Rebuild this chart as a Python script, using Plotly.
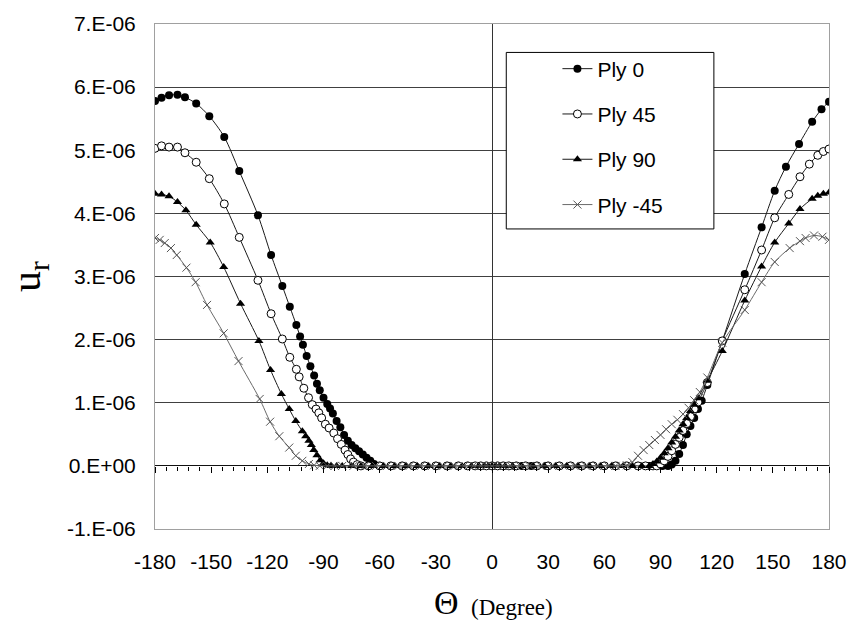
import plotly.graph_objects as go

# ---------------- data (u_r values) ----------------
theta_ply0 = [-180, -176.5, -172.5, -168, -164, -158, -151, -143, -135, -125, -118, -112, -108,
              -104.5, -102.5, -101, -99, -97, -95, -93.5, -92, -90, -88, -86.5, -85, -83, -81,
              -79, -77, -75, -73, -71, -69, -67, -65, -63, -60, -54, -48, -42, -36, -30, -24,
              -18, -13, -9, -6, -4, -2, 0, 2, 4, 6, 9, 12, 16, 21, 29, 36, 42, 48, 54, 60, 66,
              72, 78, 84, 88, 91, 94, 96, 98, 100, 102, 104, 106, 108, 110, 112, 115, 123,
              135, 144, 151, 157, 164, 171, 176, 180]
u_ply0 = [5.78e-6, 5.83e-6, 5.87e-6, 5.88e-6, 5.84e-6, 5.74e-6, 5.54e-6, 5.21e-6, 4.67e-6,
          3.97e-6, 3.34e-6, 2.85e-6, 2.52e-6, 2.23e-6, 2.05e-6, 1.92e-6, 1.74e-6, 1.58e-6,
          1.43e-6, 1.30e-6, 1.20e-6, 1.08e-6, 0.98e-6, 0.91e-6, 0.83e-6, 0.71e-6, 0.61e-6,
          0.49e-6, 0.40e-6, 0.33e-6, 0.28e-6, 0.23e-6, 0.18e-6, 0.13e-6, 0.08e-6, 0.03e-6,
          0, 0, 0, 0, 0, 0, 0, 0, 0, 0, 0, 0, 0, 0, 0, 0, 0, 0, 0, 0, 0, 0, 0, 0, 0, 0, 0, 0,
          0, 0, 0, 0, 0, 0, 0.02e-6, 0.08e-6, 0.19e-6, 0.33e-6, 0.50e-6, 0.63e-6, 0.76e-6,
          0.90e-6, 1.03e-6, 1.28e-6, 1.98e-6, 3.04e-6, 3.78e-6, 4.36e-6, 4.74e-6, 5.10e-6,
          5.45e-6, 5.65e-6, 5.77e-6]

theta_ply45 = [-180, -176.5, -172.5, -168, -164, -158, -151, -143, -135, -125, -118, -112, -108,
               -104.5, -103, -100.5, -98, -96, -94, -92.5, -91, -89, -87, -84.5, -82.5, -80.5,
               -78.5, -77, -75.5, -74, -72, -70, -66, -60, -54, -48, -42, -36, -30, -24, -18,
               -13, -9, -6, -3, 0, 3, 6, 9, 13, 18, 24, 30, 36, 42, 48, 54, 60, 66, 72, 78, 82,
               86, 88, 90, 92, 94, 96, 98, 100, 102, 104, 106, 108, 110, 115, 123, 135, 144,
               151, 158.5, 164.5, 169.5, 174, 177, 180]
u_ply45 = [5.03e-6, 5.07e-6, 5.05e-6, 5.05e-6, 4.96e-6, 4.81e-6, 4.55e-6, 4.15e-6, 3.62e-6,
           2.94e-6, 2.41e-6, 2.01e-6, 1.72e-6, 1.53e-6, 1.41e-6, 1.23e-6, 1.08e-6, 0.97e-6,
           0.90e-6, 0.84e-6, 0.76e-6, 0.66e-6, 0.60e-6, 0.52e-6, 0.43e-6, 0.34e-6, 0.25e-6,
           0.18e-6, 0.11e-6, 0.06e-6, 0.02e-6, 0, 0, 0, 0, 0, 0, 0, 0, 0, 0, 0, 0, 0, 0, 0, 0,
           0, 0, 0, 0, 0, 0, 0, 0, 0, 0, 0, 0, 0, 0, 0, 0, 0, 0.03e-6, 0.08e-6, 0.15e-6,
           0.24e-6, 0.34e-6, 0.45e-6, 0.56e-6, 0.67e-6, 0.78e-6, 0.90e-6, 1.01e-6, 1.32e-6,
           1.98e-6, 2.79e-6, 3.42e-6, 3.93e-6, 4.30e-6, 4.58e-6, 4.78e-6, 4.92e-6, 4.98e-6,
           5.02e-6]

theta_ply90 = [-180, -176.5, -172.5, -168, -163.5, -158, -150.5, -143.3, -134.3, -124.5, -118.3,
               -112.5, -108.3, -104.8, -101.3, -99.5, -97.8, -96.5, -95.2, -93.5, -91.7, -90,
               -88, -86, -83, -80, -75, -70, -64, -58, -52, -46, -40, -34, -28, -22, -16, -11,
               -7, -4, -2, 0, 2, 4, 7, 11, 16, 22, 28, 34, 40, 46, 52, 58, 64, 70, 75, 80, 84,
               86, 88, 90, 92, 94, 96, 98, 100, 102, 104, 106, 108, 110, 115, 123, 135, 144, 151,
               158.5, 164.5, 171, 174, 177, 180]
u_ply90 = [4.31e-6, 4.30e-6, 4.27e-6, 4.18e-6, 4.05e-6, 3.82e-6, 3.54e-6, 3.15e-6, 2.57e-6,
           1.98e-6, 1.52e-6, 1.14e-6, 0.90e-6, 0.71e-6, 0.55e-6, 0.47e-6, 0.40e-6, 0.33e-6,
           0.25e-6, 0.17e-6, 0.09e-6, 0.04e-6, 0.01e-6, 0, 0, 0, 0, 0, 0, 0, 0, 0, 0, 0, 0, 0,
           0, 0, 0, 0, 0, 0, 0, 0, 0, 0, 0, 0, 0, 0, 0, 0, 0, 0, 0, 0, 0, 0, 0, 0.03e-6,
           0.07e-6, 0.13e-6, 0.20e-6, 0.28e-6, 0.37e-6, 0.46e-6, 0.56e-6, 0.66e-6, 0.76e-6,
           0.87e-6, 0.97e-6, 1.07e-6, 1.35e-6, 1.82e-6, 2.62e-6, 3.16e-6, 3.54e-6, 3.84e-6,
           4.07e-6, 4.23e-6, 4.28e-6, 4.31e-6, 4.33e-6]

theta_plym45 = [-180, -177.5, -174.8, -171.5, -168.4, -163.2, -158.3, -152.2, -143.3, -135.4,
                -124.1, -118.5, -113.6, -108.3, -104.8, -101.3, -97.8, -95, -92, -88, -84, -80,
                -74, -68, -62, -56, -50, -44, -38, -32, -26, -20, -15, -10, -6, -3, 0, 3, 6, 10,
                15, 20, 26, 32, 38, 44, 50, 56, 62, 66, 69, 72, 75, 78, 81, 84, 87, 90, 93, 96,
                99, 102, 105, 108, 111, 115, 123, 135, 144, 151, 159, 164.5, 167.5, 172, 176.5,
                180]
u_plym45 = [3.61e-6, 3.58e-6, 3.53e-6, 3.45e-6, 3.34e-6, 3.14e-6, 2.91e-6, 2.55e-6, 2.10e-6,
            1.66e-6, 1.06e-6, 0.70e-6, 0.47e-6, 0.29e-6, 0.16e-6, 0.08e-6, 0.03e-6, 0.01e-6,
            0, 0, 0, 0, 0, 0, 0, 0, 0, 0, 0, 0, 0, 0, 0, 0, 0, 0, 0, 0, 0, 0, 0, 0, 0, 0, 0,
            0, 0, 0, 0, 0, 0.005e-6, 0.01e-6, 0.06e-6, 0.16e-6, 0.25e-6, 0.33e-6, 0.41e-6,
            0.49e-6, 0.58e-6, 0.66e-6, 0.73e-6, 0.82e-6, 0.92e-6, 1.04e-6, 1.17e-6, 1.40e-6,
            1.95e-6, 2.47e-6, 2.91e-6, 3.23e-6, 3.45e-6, 3.56e-6, 3.61e-6, 3.65e-6, 3.63e-6,
            3.58e-6]

series_names = ["Ply 0", "Ply 45", "Ply 90", "Ply -45"]

x_tick_vals = [-180, -150, -120, -90, -60, -30, 0, 30, 60, 90, 120, 150, 180]
x_tick_text = ["-180", "-150", "-120", "-90", "-60", "-30", "0", "30", "60", "90", "120", "150", "180"]
y_tick_vals = [-1e-6, 0, 1e-6, 2e-6, 3e-6, 4e-6, 5e-6, 6e-6, 7e-6]
y_tick_text = ["-1.E-06", "0.E+00", "1.E-06", "2.E-06", "3.E-06", "4.E-06", "5.E-06", "6.E-06", "7.E-06"]

# ---------------- figure ----------------
W, H = 859, 627
ML, MR, MT, MB = 155, 19, 14, 98
PW, PH = W - ML - MR, H - MT - MB

def px_x(p):
    return (p - ML) / PW

def px_y(p):
    return (H - MB - p) / PH

FONT = "Liberation Sans, Arial, sans-serif"
SERIF = "Liberation Serif, Times New Roman, serif"
FS = 21

fig = go.Figure()

styles = [
    dict(marker=dict(symbol="circle", size=8, color="black", line=dict(width=0)),
         line=dict(color="#1a1a1a", width=1)),
    dict(marker=dict(symbol="circle", size=8, color="white", line=dict(color="black", width=1)),
         line=dict(color="#1a1a1a", width=1)),
    dict(marker=dict(symbol="triangle-up", size=8, color="black", line=dict(width=0)),
         line=dict(color="#1a1a1a", width=1)),
    dict(marker=dict(symbol="x-thin", size=8, color="#555555", line=dict(color="#555555", width=1)),
         line=dict(color="#6a6a6a", width=1)),
]
data = [(theta_ply0, u_ply0), (theta_ply45, u_ply45), (theta_ply90, u_ply90), (theta_plym45, u_plym45)]

for i, ((xs, ys), name) in enumerate(zip(data, series_names)):
    st = styles[i]
    fig.add_trace(go.Scatter(
        x=xs, y=ys, name=name, mode="lines+markers",
        line=dict(color=st["line"]["color"], width=1, shape="spline", smoothing=0.8),
        marker=st["marker"], legendgroup=name, xaxis="x", yaxis="y",
    ))

# invisible trace carrying the tick axis drawn on the zero line
fig.add_trace(go.Scatter(x=[0], y=[0], xaxis="x2", yaxis="y", mode="markers",
                         marker=dict(opacity=0), showlegend=False, hoverinfo="skip"))

fig.update_layout(
    width=W, height=H,
    margin=dict(l=ML, r=MR, t=MT, b=MB),
    paper_bgcolor="white", plot_bgcolor="white",
    font=dict(family=FONT, size=FS, color="black"),
    xaxis=dict(
        range=[-180, 180], tickmode="array", tickvals=x_tick_vals, ticktext=x_tick_text,
        showgrid=False, zeroline=True, zerolinecolor="#333333", zerolinewidth=1,
        showline=True, linecolor="#a0a0a0", linewidth=1, mirror=True, ticks="",
        ticklabelstandoff=14, tickfont=dict(size=FS),
    ),
    xaxis2=dict(
        range=[-180, 180], overlaying="x", anchor="free", position=0.125,
        showline=False, showgrid=False, zeroline=False, showticklabels=False,
        tickmode="linear", tick0=0, dtick=30, ticks="outside", ticklen=6, tickwidth=1,
        tickcolor="black",
        minor=dict(ticks="outside", ticklen=4, tickwidth=1, tickcolor="black", dtick=6, tick0=0),
    ),
    yaxis=dict(
        range=[-1e-6, 7e-6], tickmode="array", tickvals=y_tick_vals, ticktext=y_tick_text,
        showgrid=True, gridcolor="#404040", gridwidth=1,
        zeroline=True, zerolinecolor="#111111", zerolinewidth=1,
        showline=True, linecolor="#a0a0a0", linewidth=1, mirror=True, ticks="",
        ticklabelstandoff=14, tickfont=dict(size=FS),
    ),
    showlegend=True,
    legend=dict(
        x=px_x(564), y=px_y(39), xanchor="left", yanchor="top",
        bgcolor="rgba(0,0,0,0)", borderwidth=0, tracegroupgap=15,
        font=dict(family=FONT, size=FS, color="black"), itemwidth=30,
    ),
    shapes=[dict(type="rect", xref="paper", yref="paper",
                 x0=px_x(512), x1=px_x(723), y0=px_y(223), y1=px_y(43),
                 line=dict(color="black", width=1), fillcolor="white", layer="above")],
    annotations=[
        dict(text="u<sub>r</sub>", xref="paper", yref="paper", x=px_x(27), y=px_y(272),
             showarrow=False, textangle=-90, font=dict(family=SERIF, size=42, color="black"),
             xanchor="center", yanchor="middle"),
        dict(text="Θ", xref="paper", yref="paper", x=px_x(451), y=px_y(604),
             showarrow=False, font=dict(family=SERIF, size=34, color="black"),
             xanchor="center", yanchor="middle"),
        dict(text="(Degree)", xref="paper", yref="paper", x=px_x(474), y=px_y(609),
             showarrow=False, font=dict(family=SERIF, size=23, color="black"),
             xanchor="left", yanchor="middle"),
    ],
)

fig.write_html("out.html", config={"displayModeBar": False},
               post_script="document.body.style.margin='0';document.body.style.overflow='hidden';")
